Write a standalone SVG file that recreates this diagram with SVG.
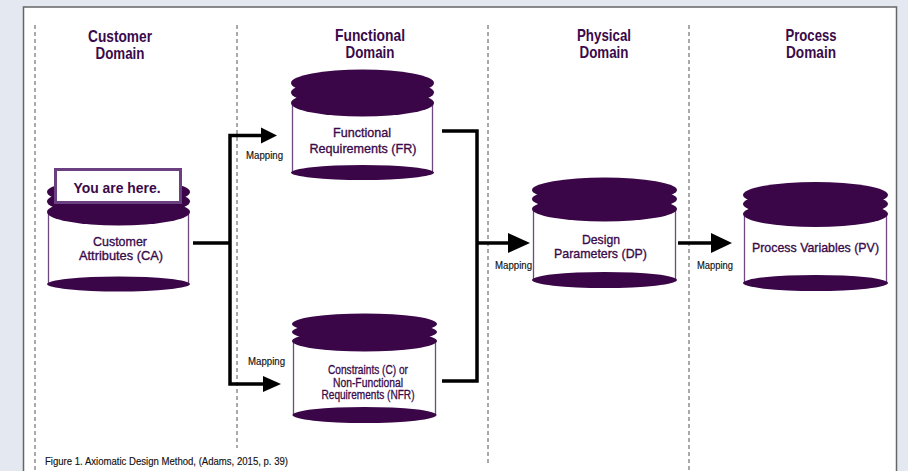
<svg xmlns="http://www.w3.org/2000/svg" width="908" height="471" viewBox="0 0 908 471">
<defs>
<style>
text{font-family:"Liberation Sans",Arial,sans-serif}
.hdr{font-weight:bold;font-size:16.5px;fill:#3a0a4a;text-anchor:middle}
.yah{font-weight:bold;font-size:15.5px;fill:#3a0a4a;text-anchor:middle}
.lbl{font-size:13.5px;fill:#3a0a4a;stroke:#3a0a4a;stroke-width:0.35;text-anchor:middle}
.sm{font-size:12px;fill:#3a0a4a;stroke:#3a0a4a;stroke-width:0.3;text-anchor:middle}
.map{font-size:10px;fill:#111;stroke:#111;stroke-width:0.15}
.cap{font-size:10.5px;fill:#111;stroke:#111;stroke-width:0.15}
.dash{stroke:#555;stroke-width:1;stroke-dasharray:4 3;fill:none}
.top{fill:#3a0648}
.side{stroke:#6e4a80;stroke-width:1.3;fill:#fff}
.conn{stroke:#000;stroke-width:3.5;fill:none}
.head{fill:#000}
</style>
</defs>
<rect x="0" y="0" width="908" height="471" fill="#e4e8f0"/>
<rect x="23.5" y="7" width="873" height="470" fill="#fff" stroke="#666" stroke-width="1.5"/>

<g id="dividers">
<line class="dash" x1="35" y1="25" x2="35" y2="471"/>
<line class="dash" x1="237" y1="25" x2="237" y2="448"/>
<line class="dash" x1="488" y1="25" x2="488" y2="463"/>
<line class="dash" x1="689" y1="25" x2="689" y2="471"/>
</g>

<g id="headers">
<text class="hdr" x="120" y="42" textLength="64" lengthAdjust="spacingAndGlyphs">Customer</text>
<text class="hdr" x="120" y="59" textLength="49" lengthAdjust="spacingAndGlyphs">Domain</text>
<text class="hdr" x="370" y="41" textLength="70" lengthAdjust="spacingAndGlyphs">Functional</text>
<text class="hdr" x="370" y="58" textLength="49" lengthAdjust="spacingAndGlyphs">Domain</text>
<text class="hdr" x="604" y="41" textLength="54" lengthAdjust="spacingAndGlyphs">Physical</text>
<text class="hdr" x="604" y="58" textLength="49" lengthAdjust="spacingAndGlyphs">Domain</text>
<text class="hdr" x="811" y="41" textLength="51" lengthAdjust="spacingAndGlyphs">Process</text>
<text class="hdr" x="811" y="58" textLength="50" lengthAdjust="spacingAndGlyphs">Domain</text>
</g>

<g id="connectors">
<polyline class="conn" points="193,243 230,243"/>
<polyline class="conn" points="263,135.5 230,135.5 230,384 265,384"/>
<polygon class="head" points="261,127.5 277,135.5 261,143.5"/>
<polygon class="head" points="263,376 281,384 263,392"/>
<polyline class="conn" points="442,131 477,131 477,381 442,381"/>
<polyline class="conn" points="477,243 510,243"/>
<polygon class="head" points="508,233 530,243 508,253"/>
<polyline class="conn" points="678,243 713,243"/>
<polygon class="head" points="711,233 732,243 711,253"/>
<text class="map" x="246" y="159" textLength="37" lengthAdjust="spacingAndGlyphs">Mapping</text>
<text class="map" x="248" y="365" textLength="37" lengthAdjust="spacingAndGlyphs">Mapping</text>
<text class="map" x="495" y="269" textLength="37" lengthAdjust="spacingAndGlyphs">Mapping</text>
<text class="map" x="697" y="269" textLength="36" lengthAdjust="spacingAndGlyphs">Mapping</text>
</g>

<g id="customer">
<rect class="side" x="48.5" y="212" width="140" height="72"/>
<ellipse class="top" cx="118.5" cy="284" rx="71.5" ry="7.5"/>
<ellipse class="top" cx="118.5" cy="192" rx="71.5" ry="13.5"/>
<ellipse class="top" cx="118.5" cy="201.5" rx="71.5" ry="13.5"/>
<ellipse class="top" cx="118.5" cy="212" rx="71.5" ry="13.5"/>
<text class="lbl" x="120" y="246" textLength="54" lengthAdjust="spacingAndGlyphs">Customer</text>
<text class="lbl" x="121" y="260" textLength="84" lengthAdjust="spacingAndGlyphs">Attributes (CA)</text>
<rect x="55.5" y="169.5" width="125" height="33" fill="#fff" stroke="#6b4080" stroke-width="3"/>
<text class="yah" x="117" y="193" textLength="87" lengthAdjust="spacingAndGlyphs">You are here.</text>
</g>

<g id="fr">
<rect class="side" x="292.5" y="103" width="140" height="69.5"/>
<ellipse class="top" cx="362.5" cy="172.5" rx="71.5" ry="7.5"/>
<ellipse class="top" cx="362.5" cy="83" rx="71.5" ry="13.5"/>
<ellipse class="top" cx="362.5" cy="92.5" rx="71.5" ry="13.5"/>
<ellipse class="top" cx="362.5" cy="103" rx="71.5" ry="13.5"/>
<text class="lbl" x="362" y="137" textLength="58" lengthAdjust="spacingAndGlyphs">Functional</text>
<text class="lbl" x="363" y="153" textLength="107" lengthAdjust="spacingAndGlyphs">Requirements (FR)</text>
</g>

<g id="nfr">
<rect class="side" x="293.5" y="341" width="142" height="74"/>
<ellipse class="top" cx="364.5" cy="415" rx="72" ry="8"/>
<ellipse class="top" cx="364.5" cy="324" rx="72.5" ry="10.5"/>
<ellipse class="top" cx="364.5" cy="332" rx="72.5" ry="10.5"/>
<ellipse class="top" cx="364.5" cy="341" rx="72.5" ry="10.5"/>
<text class="sm" x="368" y="374" textLength="80" lengthAdjust="spacingAndGlyphs">Constraints (C) or</text>
<text class="sm" x="368" y="386.5" textLength="70" lengthAdjust="spacingAndGlyphs">Non-Functional</text>
<text class="sm" x="368" y="399" textLength="93" lengthAdjust="spacingAndGlyphs">Requirements (NFR)</text>
</g>

<g id="dp">
<rect class="side" x="533.5" y="209" width="142" height="71"/>
<ellipse class="top" cx="604.5" cy="280" rx="72.5" ry="8"/>
<ellipse class="top" cx="604.5" cy="190" rx="72.5" ry="12.5"/>
<ellipse class="top" cx="604.5" cy="199" rx="72.5" ry="12.5"/>
<ellipse class="top" cx="604.5" cy="209" rx="72.5" ry="12.5"/>
<text class="lbl" x="601" y="244" textLength="38" lengthAdjust="spacingAndGlyphs">Design</text>
<text class="lbl" x="600.5" y="258" textLength="93" lengthAdjust="spacingAndGlyphs">Parameters (DP)</text>
</g>

<g id="pv">
<rect class="side" x="744.5" y="214" width="142" height="69"/>
<ellipse class="top" cx="815.5" cy="283" rx="72.5" ry="8"/>
<ellipse class="top" cx="815.5" cy="195" rx="72.5" ry="13"/>
<ellipse class="top" cx="815.5" cy="204" rx="72.5" ry="13"/>
<ellipse class="top" cx="815.5" cy="214" rx="72.5" ry="13"/>
<text class="lbl" x="815.5" y="252" textLength="127" lengthAdjust="spacingAndGlyphs">Process Variables (PV)</text>
</g>

<text class="cap" x="45" y="465" textLength="243" lengthAdjust="spacingAndGlyphs">Figure 1. Axiomatic Design Method, (Adams, 2015, p. 39)</text>
</svg>
